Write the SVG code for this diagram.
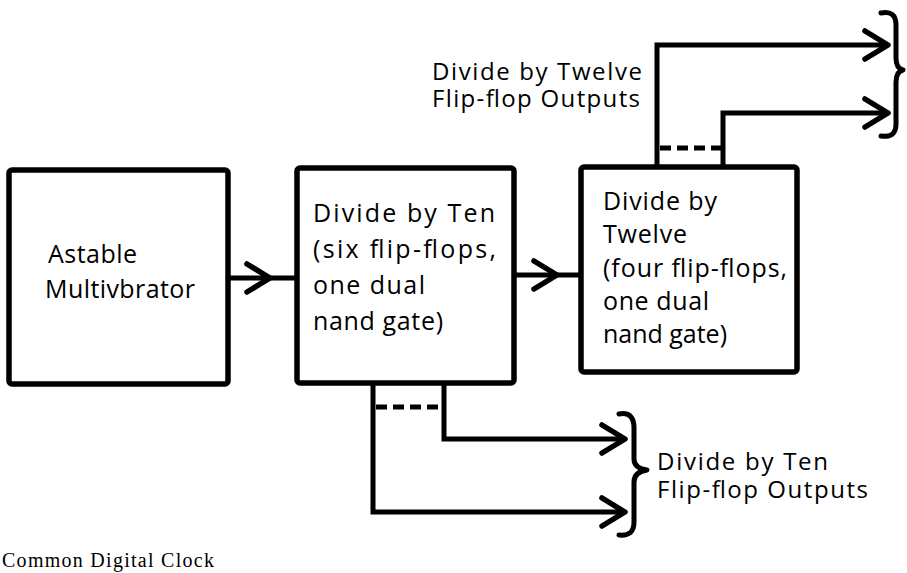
<svg xmlns="http://www.w3.org/2000/svg" width="907" height="573" viewBox="0 0 907 573">
  <style>
    .box { fill: #fff; stroke: #000; stroke-width: 5.5; }
    .wire { fill: none; stroke: #000; stroke-width: 5; stroke-linejoin: miter; }
    .head { fill: none; stroke: #000; stroke-width: 5.5; stroke-linecap: round; stroke-linejoin: round; }
    .dash { fill: none; stroke: #000; stroke-width: 5; stroke-dasharray: 11 6; }
    .brace { fill: none; stroke: #000; stroke-width: 5; stroke-linecap: round; stroke-linejoin: round; }
    .lbl { font-family: "Open Sans", "Noto Sans", sans-serif; font-size: 25px; font-weight: 500; fill: #000; }
    .side { font-size: 24px; }
    .cap { font-family: "Liberation Serif", serif; font-size: 20px; fill: #000; }
  </style>
  <defs>
    <!-- open chevron arrowhead, tip at the origin pointing right -->
    <path id="chev" class="head" d="M -23,-14 L 0,0 L -23,14"/>
  </defs>

  <rect width="907" height="573" fill="#fff"/>

  <g id="connectors">
    <!-- multivibrator to divide-by-ten -->
    <path class="wire" d="M 228,278 H 297"/>
    <use href="#chev" x="270" y="278"/>
    <!-- divide-by-ten to divide-by-twelve -->
    <path class="wire" d="M 514,275 H 581"/>
    <use href="#chev" x="557" y="275"/>
    <!-- divide-by-twelve outputs -->
    <path class="wire" d="M 657,168 V 45 H 887"/>
    <path class="wire" d="M 723,168 V 113 H 887"/>
    <use href="#chev" x="888" y="45"/>
    <use href="#chev" x="888" y="113"/>
    <path class="dash" d="M 660,148 H 722"/>
    <!-- divide-by-ten outputs -->
    <path class="wire" d="M 373,383 V 512 H 624"/>
    <path class="wire" d="M 444,383 V 439 H 624"/>
    <use href="#chev" x="625" y="512"/>
    <use href="#chev" x="625" y="439"/>
    <path class="dash" d="M 376,407 H 443"/>
    <!-- braces grouping the outputs -->
    <path class="brace" d="M 881,13 C 891,11 896,15 896,25 L 896,58 C 896,66 899,69 903,70 C 899,71 896,74 896,82 L 896,124 C 896,134 891,137 881,136"/>
    <path class="brace" d="M 619,414 C 629,412 634,417 634,428 L 634,459 C 634,466 640,469 647,470 C 640,471 634,474 634,482 L 634,522 C 634,532 629,536 619,535"/>
  </g>

  <g id="astable">
    <rect class="box" x="9" y="170" width="219" height="214" rx="3"/>
    <text class="lbl" x="48" y="263" textLength="89" lengthAdjust="spacing">Astable</text>
    <text class="lbl" x="45" y="298" textLength="150" lengthAdjust="spacing">Multivbrator</text>
  </g>

  <g id="divide-ten">
    <rect class="box" x="297" y="168" width="217" height="215" rx="3"/>
    <text class="lbl" x="313" y="222" textLength="182" lengthAdjust="spacing">Divide by Ten</text>
    <text class="lbl" x="313" y="258" textLength="183" lengthAdjust="spacing">(six flip-flops,</text>
    <text class="lbl" x="313" y="294" textLength="112" lengthAdjust="spacing">one dual</text>
    <text class="lbl" x="313" y="330" textLength="130" lengthAdjust="spacing">nand gate)</text>
  </g>

  <g id="divide-twelve">
    <rect class="box" x="581" y="167" width="216" height="205" rx="3"/>
    <text class="lbl" x="603" y="210" textLength="114" lengthAdjust="spacing">Divide by</text>
    <text class="lbl" x="603" y="243" textLength="84" lengthAdjust="spacing">Twelve</text>
    <text class="lbl" x="603" y="277" textLength="184" lengthAdjust="spacing">(four flip-flops,</text>
    <text class="lbl" x="603" y="310" textLength="106" lengthAdjust="spacing">one dual</text>
    <text class="lbl" x="603" y="343" textLength="124" lengthAdjust="spacing">nand gate)</text>
  </g>

  <g id="twelve-outputs-label">
    <text class="lbl side" x="432" y="80" textLength="210" lengthAdjust="spacing">Divide by Twelve</text>
    <text class="lbl side" x="432" y="107" textLength="208" lengthAdjust="spacing">Flip-flop Outputs</text>
  </g>

  <g id="ten-outputs-label">
    <text class="lbl side" x="657" y="470" textLength="171" lengthAdjust="spacing">Divide by Ten</text>
    <text class="lbl side" x="657" y="498" textLength="211" lengthAdjust="spacing">Flip-flop Outputs</text>
  </g>

  <text class="cap" x="2" y="567" textLength="212" lengthAdjust="spacing">Common Digital Clock</text>
</svg>
